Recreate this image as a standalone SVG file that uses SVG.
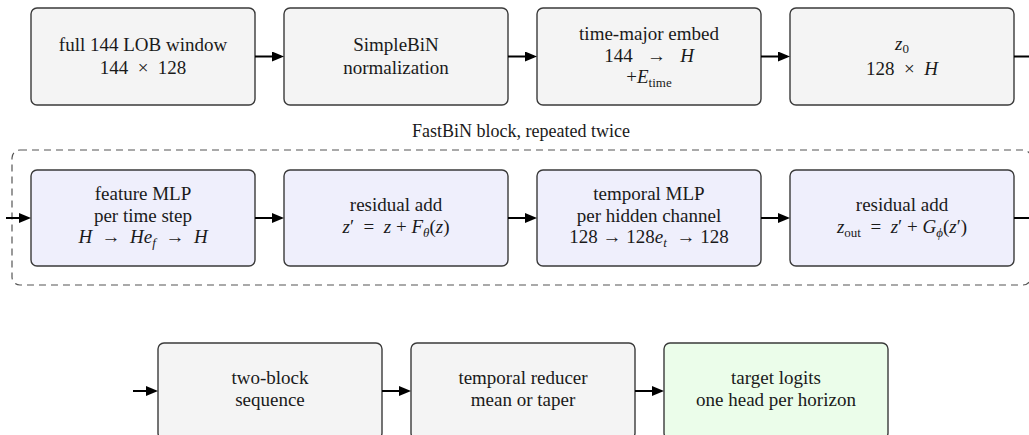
<svg xmlns="http://www.w3.org/2000/svg" width="1029" height="435" viewBox="0 0 1029 435">
<style>
.bx{stroke:#3a3a3a;stroke-width:1.4}
.g{fill:#f4f4f4}.b{fill:#efeffc}.gr{fill:#ebfdea}
.t{font-family:'Liberation Serif','Times New Roman',serif;font-size:19px;fill:#1a1a1a;text-anchor:middle}
.i{font-style:italic}
.s{font-size:13px}
.c{fill:none;stroke:#000;stroke-width:2}
.d{fill:none;stroke:#555;stroke-width:1.2;stroke-dasharray:7 5}
</style>
<defs>
<marker id="ah" viewBox="0 0 12 10" refX="9" refY="5" markerWidth="12" markerHeight="10" markerUnits="userSpaceOnUse" orient="auto"><path d="M0,0 L12,5 L0,10 z" fill="#000"/></marker>
</defs>
<rect class="d" x="12" y="150" width="1019" height="135" rx="8"/>
<text class="t" x="521" y="137" style="font-size:18px">FastBiN block, repeated twice</text>
<g id="n1"><rect class="bx g" x="31" y="8" width="224" height="97" rx="6"/>
<text class="t" x="143" y="51">full 144 LOB window</text>
<text class="t" x="143" y="74">144&#160;&#160;×&#160;&#160;128</text></g>
<g id="n2"><rect class="bx g" x="284" y="8" width="224" height="97" rx="6"/>
<text class="t" x="396" y="51">SimpleBiN</text>
<text class="t" x="396" y="74">normalization</text></g>
<g id="n3"><rect class="bx g" x="537" y="8" width="224" height="97" rx="6"/>
<text class="t" x="649" y="40">time-major embed</text>
<text class="t" x="649" y="62">144&#160;&#160;&#160;→&#160;&#160;&#160;<tspan class="i">H</tspan></text>
<text class="t" x="649" y="83">+<tspan class="i">E</tspan><tspan class="s" dy="4">time</tspan></text></g>
<g id="n4"><rect class="bx g" x="790" y="8" width="224" height="97" rx="6"/>
<text class="t" x="902" y="50"><tspan class="i">z</tspan><tspan class="s" dy="3">0</tspan></text>
<text class="t" x="902" y="75">128&#160;&#160;×&#160;&#160;<tspan class="i">H</tspan></text></g>
<g id="n5"><rect class="bx b" x="31" y="170" width="224" height="96" rx="6"/>
<text class="t" x="143" y="200">feature MLP</text>
<text class="t" x="143" y="222">per time step</text>
<text class="t" x="143" y="243"><tspan class="i">H</tspan>&#160;&#160;→&#160;&#160;<tspan class="i">He</tspan><tspan class="s i" dy="4">f</tspan><tspan dy="-4">&#160;&#160;→&#160;&#160;</tspan><tspan class="i">H</tspan></text></g>
<g id="n6"><rect class="bx b" x="284" y="170" width="224" height="96" rx="6"/>
<text class="t" x="396" y="211">residual add</text>
<text class="t" x="396" y="233"><tspan class="i">z</tspan>′&#160;&#160;=&#160;&#160;<tspan class="i">z</tspan>&#160;+&#160;<tspan class="i">F</tspan><tspan class="s i" dy="4">θ</tspan><tspan dy="-4">(</tspan><tspan class="i">z</tspan>)</text></g>
<g id="n7"><rect class="bx b" x="537" y="170" width="224" height="96" rx="6"/>
<text class="t" x="649" y="200">temporal MLP</text>
<text class="t" x="649" y="222">per hidden channel</text>
<text class="t" x="649" y="243">128&#160;→&#160;128<tspan class="i">e</tspan><tspan class="s i" dy="4">t</tspan><tspan dy="-4">&#160;&#160;→&#160;128</tspan></text></g>
<g id="n8"><rect class="bx b" x="790" y="170" width="224" height="96" rx="6"/>
<text class="t" x="902" y="211">residual add</text>
<text class="t" x="902" y="233"><tspan class="i">z</tspan><tspan class="s" dy="4">out</tspan><tspan dy="-4">&#160;&#160;=&#160;&#160;</tspan><tspan class="i">z</tspan>′&#160;+&#160;<tspan class="i">G</tspan><tspan class="s i" dy="4">ϕ</tspan><tspan dy="-4">(</tspan><tspan class="i">z</tspan>′)</text></g>
<g id="n9"><rect class="bx g" x="158" y="343" width="224" height="96" rx="6"/>
<text class="t" x="270" y="384">two-block</text>
<text class="t" x="270" y="406">sequence</text></g>
<g id="n10"><rect class="bx g" x="411" y="343" width="224" height="96" rx="6"/>
<text class="t" x="523" y="384">temporal reducer</text>
<text class="t" x="523" y="406">mean or taper</text></g>
<g id="n11"><rect class="bx gr" x="664" y="343" width="224" height="96" rx="6"/>
<text class="t" x="776" y="384">target logits</text>
<text class="t" x="776" y="406">one head per horizon</text></g>
<g id="connectors">
<line class="c" x1="255" y1="56.5" x2="281" y2="56.5" marker-end="url(#ah)"/>
<line class="c" x1="508" y1="56.5" x2="534" y2="56.5" marker-end="url(#ah)"/>
<line class="c" x1="761" y1="56.5" x2="787" y2="56.5" marker-end="url(#ah)"/>
<line class="c" x1="1014" y1="56.5" x2="1040" y2="56.5" marker-end="url(#ah)"/>
<line class="c" x1="6" y1="218" x2="28" y2="218" marker-end="url(#ah)"/>
<line class="c" x1="255" y1="218" x2="281" y2="218" marker-end="url(#ah)"/>
<line class="c" x1="508" y1="218" x2="534" y2="218" marker-end="url(#ah)"/>
<line class="c" x1="761" y1="218" x2="787" y2="218" marker-end="url(#ah)"/>
<line class="c" x1="1014" y1="218" x2="1040" y2="218" marker-end="url(#ah)"/>
<line class="c" x1="133" y1="391" x2="155" y2="391" marker-end="url(#ah)"/>
<line class="c" x1="382" y1="391" x2="408" y2="391" marker-end="url(#ah)"/>
<line class="c" x1="635" y1="391" x2="661" y2="391" marker-end="url(#ah)"/>
</g>
</svg>
